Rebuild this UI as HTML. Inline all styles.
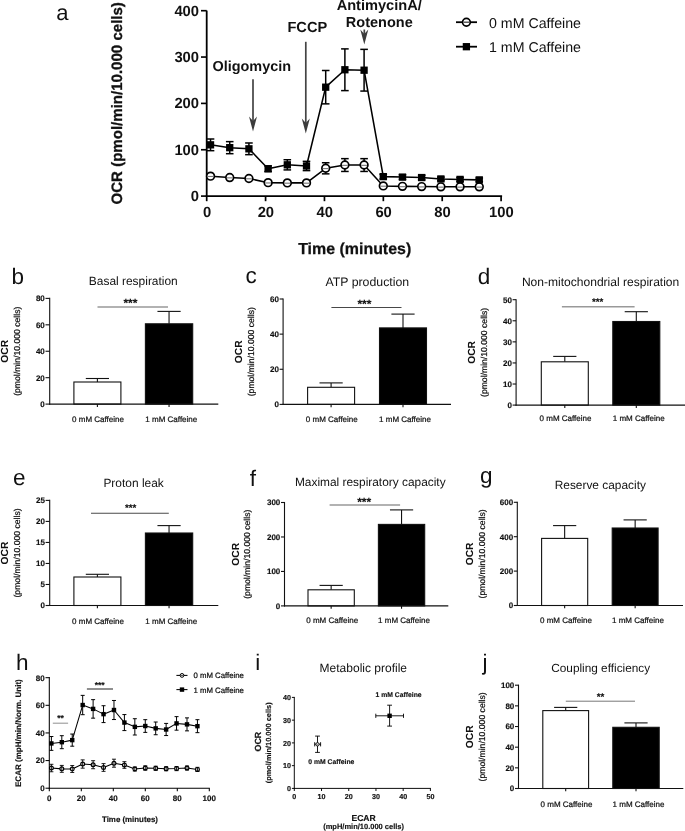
<!DOCTYPE html>
<html><head><meta charset="utf-8"><title>Figure</title>
<style>
html,body{margin:0;padding:0;background:#fff;}
body{width:685px;height:831px;overflow:hidden;font-family:"Liberation Sans",sans-serif;}
svg{display:block;will-change:transform;filter:blur(0.35px);}
svg text{font-family:"Liberation Sans",sans-serif;}
</style></head><body>
<svg width="685" height="831" viewBox="0 0 685 831" font-family="'Liberation Sans', sans-serif" shape-rendering="geometricPrecision" text-rendering="geometricPrecision">
<rect x="0" y="0" width="685" height="831" fill="#fff"/>
<line x1="206.7" y1="10.6" x2="206.7" y2="197" stroke="#000" stroke-width="1.8" stroke-linecap="butt"/>
<line x1="205.8" y1="196.1" x2="502.1" y2="196.1" stroke="#000" stroke-width="1.8" stroke-linecap="butt"/>
<line x1="201" y1="196.1" x2="206.7" y2="196.1" stroke="#000" stroke-width="1.65" stroke-linecap="butt"/>
<text x="199.1" y="200.9" font-size="14.8" text-anchor="end" font-weight="bold" fill="#111">0</text>
<line x1="201" y1="149.75" x2="206.7" y2="149.75" stroke="#000" stroke-width="1.65" stroke-linecap="butt"/>
<text x="199.1" y="154.55" font-size="14.8" text-anchor="end" font-weight="bold" fill="#111">100</text>
<line x1="201" y1="103.4" x2="206.7" y2="103.4" stroke="#000" stroke-width="1.65" stroke-linecap="butt"/>
<text x="199.1" y="108.2" font-size="14.8" text-anchor="end" font-weight="bold" fill="#111">200</text>
<line x1="201" y1="57.05" x2="206.7" y2="57.05" stroke="#000" stroke-width="1.65" stroke-linecap="butt"/>
<text x="199.1" y="61.85" font-size="14.8" text-anchor="end" font-weight="bold" fill="#111">300</text>
<line x1="201" y1="10.7" x2="206.7" y2="10.7" stroke="#000" stroke-width="1.65" stroke-linecap="butt"/>
<text x="199.1" y="15.5" font-size="14.8" text-anchor="end" font-weight="bold" fill="#111">400</text>
<line x1="206.7" y1="196.1" x2="206.7" y2="201.2" stroke="#000" stroke-width="1.7" stroke-linecap="butt"/>
<text x="207" y="217.3" font-size="14.8" text-anchor="middle" font-weight="bold" fill="#111">0</text>
<line x1="265.58" y1="196.1" x2="265.58" y2="201.2" stroke="#000" stroke-width="1.7" stroke-linecap="butt"/>
<text x="265.88" y="217.3" font-size="14.8" text-anchor="middle" font-weight="bold" fill="#111">20</text>
<line x1="324.46" y1="196.1" x2="324.46" y2="201.2" stroke="#000" stroke-width="1.7" stroke-linecap="butt"/>
<text x="324.76" y="217.3" font-size="14.8" text-anchor="middle" font-weight="bold" fill="#111">40</text>
<line x1="383.34" y1="196.1" x2="383.34" y2="201.2" stroke="#000" stroke-width="1.7" stroke-linecap="butt"/>
<text x="383.64" y="217.3" font-size="14.8" text-anchor="middle" font-weight="bold" fill="#111">60</text>
<line x1="442.22" y1="196.1" x2="442.22" y2="201.2" stroke="#000" stroke-width="1.7" stroke-linecap="butt"/>
<text x="442.52" y="217.3" font-size="14.8" text-anchor="middle" font-weight="bold" fill="#111">80</text>
<line x1="501.1" y1="196.1" x2="501.1" y2="201.2" stroke="#000" stroke-width="1.7" stroke-linecap="butt"/>
<text x="501.4" y="217.3" font-size="14.8" text-anchor="middle" font-weight="bold" fill="#111">100</text>
<polyline fill="none" stroke="#000" stroke-width="1.55" stroke-linejoin="round" points="210.53,176.17 229.72,177.56 248.92,178.49 268.11,182.66 287.31,182.89 306.5,182.89 325.7,168.29 344.89,165.05 364.09,165.05 383.28,185.9 402.48,186.37 421.67,186.6 440.87,186.83 460.06,186.83 479.26,186.83"/>
<line x1="325.7" y1="162.73" x2="325.7" y2="173.85" stroke="#000" stroke-width="1.5" stroke-linecap="butt"/>
<line x1="321.9" y1="162.73" x2="329.5" y2="162.73" stroke="#000" stroke-width="1.5" stroke-linecap="butt"/>
<line x1="321.9" y1="173.85" x2="329.5" y2="173.85" stroke="#000" stroke-width="1.5" stroke-linecap="butt"/>
<line x1="344.89" y1="158.65" x2="344.89" y2="171.44" stroke="#000" stroke-width="1.5" stroke-linecap="butt"/>
<line x1="341.09" y1="158.65" x2="348.69" y2="158.65" stroke="#000" stroke-width="1.5" stroke-linecap="butt"/>
<line x1="341.09" y1="171.44" x2="348.69" y2="171.44" stroke="#000" stroke-width="1.5" stroke-linecap="butt"/>
<line x1="364.09" y1="158.65" x2="364.09" y2="171.44" stroke="#000" stroke-width="1.5" stroke-linecap="butt"/>
<line x1="360.29" y1="158.65" x2="367.89" y2="158.65" stroke="#000" stroke-width="1.5" stroke-linecap="butt"/>
<line x1="360.29" y1="171.44" x2="367.89" y2="171.44" stroke="#000" stroke-width="1.5" stroke-linecap="butt"/>
<circle cx="210.53" cy="176.17" r="3.85" fill="#fff" stroke="#000" stroke-width="1.7"/>
<line x1="207.63" y1="176.47" x2="213.43" y2="176.47" stroke="#777" stroke-width="1.1" stroke-linecap="butt"/>
<circle cx="229.72" cy="177.56" r="3.85" fill="#fff" stroke="#000" stroke-width="1.7"/>
<line x1="226.82" y1="177.86" x2="232.62" y2="177.86" stroke="#777" stroke-width="1.1" stroke-linecap="butt"/>
<circle cx="248.92" cy="178.49" r="3.85" fill="#fff" stroke="#000" stroke-width="1.7"/>
<line x1="246.02" y1="178.79" x2="251.82" y2="178.79" stroke="#777" stroke-width="1.1" stroke-linecap="butt"/>
<circle cx="268.11" cy="182.66" r="3.85" fill="#fff" stroke="#000" stroke-width="1.7"/>
<line x1="265.21" y1="182.96" x2="271.01" y2="182.96" stroke="#777" stroke-width="1.1" stroke-linecap="butt"/>
<circle cx="287.31" cy="182.89" r="3.85" fill="#fff" stroke="#000" stroke-width="1.7"/>
<line x1="284.41" y1="183.19" x2="290.21" y2="183.19" stroke="#777" stroke-width="1.1" stroke-linecap="butt"/>
<circle cx="306.5" cy="182.89" r="3.85" fill="#fff" stroke="#000" stroke-width="1.7"/>
<line x1="303.6" y1="183.19" x2="309.4" y2="183.19" stroke="#777" stroke-width="1.1" stroke-linecap="butt"/>
<circle cx="325.7" cy="168.29" r="3.85" fill="#fff" stroke="#000" stroke-width="1.7"/>
<line x1="322.8" y1="168.59" x2="328.6" y2="168.59" stroke="#777" stroke-width="1.1" stroke-linecap="butt"/>
<circle cx="344.89" cy="165.05" r="3.85" fill="#fff" stroke="#000" stroke-width="1.7"/>
<line x1="341.99" y1="165.35" x2="347.79" y2="165.35" stroke="#777" stroke-width="1.1" stroke-linecap="butt"/>
<circle cx="364.09" cy="165.05" r="3.85" fill="#fff" stroke="#000" stroke-width="1.7"/>
<line x1="361.19" y1="165.35" x2="366.99" y2="165.35" stroke="#777" stroke-width="1.1" stroke-linecap="butt"/>
<circle cx="383.28" cy="185.9" r="3.85" fill="#fff" stroke="#000" stroke-width="1.7"/>
<line x1="380.38" y1="186.2" x2="386.18" y2="186.2" stroke="#777" stroke-width="1.1" stroke-linecap="butt"/>
<circle cx="402.48" cy="186.37" r="3.85" fill="#fff" stroke="#000" stroke-width="1.7"/>
<line x1="399.58" y1="186.67" x2="405.38" y2="186.67" stroke="#777" stroke-width="1.1" stroke-linecap="butt"/>
<circle cx="421.67" cy="186.6" r="3.85" fill="#fff" stroke="#000" stroke-width="1.7"/>
<line x1="418.77" y1="186.9" x2="424.57" y2="186.9" stroke="#777" stroke-width="1.1" stroke-linecap="butt"/>
<circle cx="440.87" cy="186.83" r="3.85" fill="#fff" stroke="#000" stroke-width="1.7"/>
<line x1="437.97" y1="187.13" x2="443.77" y2="187.13" stroke="#777" stroke-width="1.1" stroke-linecap="butt"/>
<circle cx="460.06" cy="186.83" r="3.85" fill="#fff" stroke="#000" stroke-width="1.7"/>
<line x1="457.16" y1="187.13" x2="462.96" y2="187.13" stroke="#777" stroke-width="1.1" stroke-linecap="butt"/>
<circle cx="479.26" cy="186.83" r="3.85" fill="#fff" stroke="#000" stroke-width="1.7"/>
<line x1="476.36" y1="187.13" x2="482.16" y2="187.13" stroke="#777" stroke-width="1.1" stroke-linecap="butt"/>
<polyline fill="none" stroke="#000" stroke-width="1.55" stroke-linejoin="round" points="210.53,144.84 229.72,147.66 248.92,148.82 268.11,168.75 287.31,164.81 306.5,165.97 325.7,87.18 344.89,69.75 364.09,70.21 383.28,176.63 402.48,177.1 421.67,177.56 440.87,178.95 460.06,179.41 479.26,179.88"/>
<line x1="210.53" y1="139" x2="210.53" y2="150.68" stroke="#000" stroke-width="1.5" stroke-linecap="butt"/>
<line x1="206.73" y1="139" x2="214.33" y2="139" stroke="#000" stroke-width="1.5" stroke-linecap="butt"/>
<line x1="206.73" y1="150.68" x2="214.33" y2="150.68" stroke="#000" stroke-width="1.5" stroke-linecap="butt"/>
<line x1="229.72" y1="141.64" x2="229.72" y2="153.69" stroke="#000" stroke-width="1.5" stroke-linecap="butt"/>
<line x1="225.92" y1="141.64" x2="233.52" y2="141.64" stroke="#000" stroke-width="1.5" stroke-linecap="butt"/>
<line x1="225.92" y1="153.69" x2="233.52" y2="153.69" stroke="#000" stroke-width="1.5" stroke-linecap="butt"/>
<line x1="248.92" y1="142.98" x2="248.92" y2="154.66" stroke="#000" stroke-width="1.5" stroke-linecap="butt"/>
<line x1="245.12" y1="142.98" x2="252.72" y2="142.98" stroke="#000" stroke-width="1.5" stroke-linecap="butt"/>
<line x1="245.12" y1="154.66" x2="252.72" y2="154.66" stroke="#000" stroke-width="1.5" stroke-linecap="butt"/>
<line x1="268.11" y1="165.97" x2="268.11" y2="171.53" stroke="#000" stroke-width="1.5" stroke-linecap="butt"/>
<line x1="264.31" y1="165.97" x2="271.91" y2="165.97" stroke="#000" stroke-width="1.5" stroke-linecap="butt"/>
<line x1="264.31" y1="171.53" x2="271.91" y2="171.53" stroke="#000" stroke-width="1.5" stroke-linecap="butt"/>
<line x1="287.31" y1="159.72" x2="287.31" y2="169.91" stroke="#000" stroke-width="1.5" stroke-linecap="butt"/>
<line x1="283.51" y1="159.72" x2="291.11" y2="159.72" stroke="#000" stroke-width="1.5" stroke-linecap="butt"/>
<line x1="283.51" y1="169.91" x2="291.11" y2="169.91" stroke="#000" stroke-width="1.5" stroke-linecap="butt"/>
<line x1="306.5" y1="161.34" x2="306.5" y2="170.61" stroke="#000" stroke-width="1.5" stroke-linecap="butt"/>
<line x1="302.7" y1="161.34" x2="310.3" y2="161.34" stroke="#000" stroke-width="1.5" stroke-linecap="butt"/>
<line x1="302.7" y1="170.61" x2="310.3" y2="170.61" stroke="#000" stroke-width="1.5" stroke-linecap="butt"/>
<line x1="325.7" y1="70.49" x2="325.7" y2="103.86" stroke="#000" stroke-width="1.5" stroke-linecap="butt"/>
<line x1="321.9" y1="70.49" x2="329.5" y2="70.49" stroke="#000" stroke-width="1.5" stroke-linecap="butt"/>
<line x1="321.9" y1="103.86" x2="329.5" y2="103.86" stroke="#000" stroke-width="1.5" stroke-linecap="butt"/>
<line x1="344.89" y1="48.89" x2="344.89" y2="90.61" stroke="#000" stroke-width="1.5" stroke-linecap="butt"/>
<line x1="341.09" y1="48.89" x2="348.69" y2="48.89" stroke="#000" stroke-width="1.5" stroke-linecap="butt"/>
<line x1="341.09" y1="90.61" x2="348.69" y2="90.61" stroke="#000" stroke-width="1.5" stroke-linecap="butt"/>
<line x1="364.09" y1="49.36" x2="364.09" y2="91.07" stroke="#000" stroke-width="1.5" stroke-linecap="butt"/>
<line x1="360.29" y1="49.36" x2="367.89" y2="49.36" stroke="#000" stroke-width="1.5" stroke-linecap="butt"/>
<line x1="360.29" y1="91.07" x2="367.89" y2="91.07" stroke="#000" stroke-width="1.5" stroke-linecap="butt"/>
<line x1="383.28" y1="174.32" x2="383.28" y2="178.95" stroke="#000" stroke-width="1.5" stroke-linecap="butt"/>
<line x1="379.48" y1="174.32" x2="387.08" y2="174.32" stroke="#000" stroke-width="1.5" stroke-linecap="butt"/>
<line x1="379.48" y1="178.95" x2="387.08" y2="178.95" stroke="#000" stroke-width="1.5" stroke-linecap="butt"/>
<line x1="402.48" y1="174.78" x2="402.48" y2="179.41" stroke="#000" stroke-width="1.5" stroke-linecap="butt"/>
<line x1="398.68" y1="174.78" x2="406.28" y2="174.78" stroke="#000" stroke-width="1.5" stroke-linecap="butt"/>
<line x1="398.68" y1="179.41" x2="406.28" y2="179.41" stroke="#000" stroke-width="1.5" stroke-linecap="butt"/>
<line x1="421.67" y1="175.24" x2="421.67" y2="179.88" stroke="#000" stroke-width="1.5" stroke-linecap="butt"/>
<line x1="417.87" y1="175.24" x2="425.47" y2="175.24" stroke="#000" stroke-width="1.5" stroke-linecap="butt"/>
<line x1="417.87" y1="179.88" x2="425.47" y2="179.88" stroke="#000" stroke-width="1.5" stroke-linecap="butt"/>
<line x1="440.87" y1="177.1" x2="440.87" y2="180.8" stroke="#000" stroke-width="1.5" stroke-linecap="butt"/>
<line x1="437.07" y1="177.1" x2="444.67" y2="177.1" stroke="#000" stroke-width="1.5" stroke-linecap="butt"/>
<line x1="437.07" y1="180.8" x2="444.67" y2="180.8" stroke="#000" stroke-width="1.5" stroke-linecap="butt"/>
<line x1="460.06" y1="177.56" x2="460.06" y2="181.27" stroke="#000" stroke-width="1.5" stroke-linecap="butt"/>
<line x1="456.26" y1="177.56" x2="463.86" y2="177.56" stroke="#000" stroke-width="1.5" stroke-linecap="butt"/>
<line x1="456.26" y1="181.27" x2="463.86" y2="181.27" stroke="#000" stroke-width="1.5" stroke-linecap="butt"/>
<line x1="479.26" y1="178.02" x2="479.26" y2="181.73" stroke="#000" stroke-width="1.5" stroke-linecap="butt"/>
<line x1="475.46" y1="178.02" x2="483.06" y2="178.02" stroke="#000" stroke-width="1.5" stroke-linecap="butt"/>
<line x1="475.46" y1="181.73" x2="483.06" y2="181.73" stroke="#000" stroke-width="1.5" stroke-linecap="butt"/>
<rect x="206.88" y="141.19" width="7.3" height="7.3" fill="#000"/>
<rect x="226.07" y="144.01" width="7.3" height="7.3" fill="#000"/>
<rect x="245.27" y="145.17" width="7.3" height="7.3" fill="#000"/>
<rect x="264.46" y="165.1" width="7.3" height="7.3" fill="#000"/>
<rect x="283.66" y="161.16" width="7.3" height="7.3" fill="#000"/>
<rect x="302.85" y="162.32" width="7.3" height="7.3" fill="#000"/>
<rect x="322.05" y="83.53" width="7.3" height="7.3" fill="#000"/>
<rect x="341.24" y="66.1" width="7.3" height="7.3" fill="#000"/>
<rect x="360.44" y="66.56" width="7.3" height="7.3" fill="#000"/>
<rect x="379.63" y="172.98" width="7.3" height="7.3" fill="#000"/>
<rect x="398.83" y="173.45" width="7.3" height="7.3" fill="#000"/>
<rect x="418.02" y="173.91" width="7.3" height="7.3" fill="#000"/>
<rect x="437.22" y="175.3" width="7.3" height="7.3" fill="#000"/>
<rect x="456.41" y="175.76" width="7.3" height="7.3" fill="#000"/>
<rect x="475.61" y="176.23" width="7.3" height="7.3" fill="#000"/>
<text x="354.7" y="253.7" font-size="15.95" text-anchor="middle" font-weight="bold" fill="#111" stroke="#111" stroke-width="0.25">Time (minutes)</text>
<text x="122" y="103.3" font-size="15.05" text-anchor="middle" font-weight="bold" transform="rotate(-90 122 103.3)" fill="#111" stroke="#111" stroke-width="0.3">OCR (pmol/min/10.000 cells)</text>
<text x="56.2" y="20.4" font-size="22" text-anchor="start" fill="#111">a</text>
<text x="251.8" y="70.6" font-size="14.45" text-anchor="middle" font-weight="bold" fill="#111">Oligomycin</text>
<text x="307.3" y="31.5" font-size="14.6" text-anchor="middle" font-weight="bold" fill="#111">FCCP</text>
<text x="379.2" y="10.2" font-size="14.6" text-anchor="middle" font-weight="bold" fill="#111">AntimycinA/</text>
<text x="379.3" y="26.5" font-size="14.5" text-anchor="middle" font-weight="bold" fill="#111">Rotenone</text>
<line x1="253" y1="79.3" x2="253" y2="123.5" stroke="#444" stroke-width="1.7" stroke-linecap="butt"/>
<path d="M253 131.5 L249 116.5 L253 121 L257 116.5 Z" fill="#3c3c3c"/>
<line x1="305.8" y1="41.8" x2="305.8" y2="125.5" stroke="#444" stroke-width="1.7" stroke-linecap="butt"/>
<path d="M305.8 133.5 L301.8 118.5 L305.8 123 L309.8 118.5 Z" fill="#3c3c3c"/>
<line x1="364.3" y1="29.5" x2="364.3" y2="36.5" stroke="#444" stroke-width="1.7" stroke-linecap="butt"/>
<path d="M364.3 44.5 L360.3 29.5 L364.3 34 L368.3 29.5 Z" fill="#3c3c3c"/>
<line x1="456" y1="22.2" x2="477" y2="22.2" stroke="#000" stroke-width="1.8" stroke-linecap="butt"/>
<circle cx="466.4" cy="22.2" r="3.85" fill="#fff" stroke="#000" stroke-width="1.7"/>
<line x1="463.6" y1="22.2" x2="469.2" y2="22.2" stroke="#444" stroke-width="1.3" stroke-linecap="butt"/>
<text x="489" y="27.6" font-size="14.2" text-anchor="start" fill="#111">0 mM Caffeine</text>
<line x1="456" y1="46.7" x2="477" y2="46.7" stroke="#000" stroke-width="1.8" stroke-linecap="butt"/>
<rect x="462.75" y="43.05" width="7.3" height="7.3" fill="#000"/>
<text x="489" y="52.1" font-size="14.2" text-anchor="start" fill="#111">1 mM Caffeine</text>
<line x1="97.4" y1="378.5" x2="97.4" y2="382" stroke="#111" stroke-width="1.1" stroke-linecap="butt"/>
<line x1="85.8" y1="378.5" x2="109" y2="378.5" stroke="#111" stroke-width="1.1" stroke-linecap="butt"/>
<rect x="73.9" y="382" width="47" height="22.1" fill="#fff" stroke="#111" stroke-width="1.1"/>
<line x1="97.4" y1="404.1" x2="97.4" y2="406.9" stroke="#111" stroke-width="1.1" stroke-linecap="butt"/>
<line x1="169.05" y1="311.4" x2="169.05" y2="323.8" stroke="#111" stroke-width="1.1" stroke-linecap="butt"/>
<line x1="157.45" y1="311.4" x2="180.65" y2="311.4" stroke="#111" stroke-width="1.1" stroke-linecap="butt"/>
<rect x="145.4" y="323.8" width="47.3" height="80.3" fill="#000" stroke="#111" stroke-width="1.1"/>
<line x1="169.05" y1="404.1" x2="169.05" y2="406.9" stroke="#111" stroke-width="1.1" stroke-linecap="butt"/>
<line x1="49.7" y1="297.85" x2="49.7" y2="404.65" stroke="#111" stroke-width="1.1" stroke-linecap="butt"/>
<line x1="49.15" y1="404.1" x2="218.3" y2="404.1" stroke="#111" stroke-width="1.1" stroke-linecap="butt"/>
<line x1="45.5" y1="404.1" x2="49.7" y2="404.1" stroke="#111" stroke-width="1.1" stroke-linecap="butt"/>
<text x="44.8" y="407" font-size="8" text-anchor="end" font-weight="bold" fill="#111" stroke="#111" stroke-width="0.15">0</text>
<line x1="45.5" y1="377.68" x2="49.7" y2="377.68" stroke="#111" stroke-width="1.1" stroke-linecap="butt"/>
<text x="44.8" y="380.57" font-size="8" text-anchor="end" font-weight="bold" fill="#111" stroke="#111" stroke-width="0.15">20</text>
<line x1="45.5" y1="351.25" x2="49.7" y2="351.25" stroke="#111" stroke-width="1.1" stroke-linecap="butt"/>
<text x="44.8" y="354.15" font-size="8" text-anchor="end" font-weight="bold" fill="#111" stroke="#111" stroke-width="0.15">40</text>
<line x1="45.5" y1="324.82" x2="49.7" y2="324.82" stroke="#111" stroke-width="1.1" stroke-linecap="butt"/>
<text x="44.8" y="327.72" font-size="8" text-anchor="end" font-weight="bold" fill="#111" stroke="#111" stroke-width="0.15">60</text>
<line x1="45.5" y1="298.4" x2="49.7" y2="298.4" stroke="#111" stroke-width="1.1" stroke-linecap="butt"/>
<text x="44.8" y="301.3" font-size="8" text-anchor="end" font-weight="bold" fill="#111" stroke="#111" stroke-width="0.15">80</text>
<text x="98" y="421.6" font-size="8" text-anchor="middle" fill="#111" stroke="#111" stroke-width="0.22">0 mM Caffeine</text>
<text x="171.3" y="421.6" font-size="8" text-anchor="middle" fill="#111" stroke="#111" stroke-width="0.22">1 mM Caffeine</text>
<text x="133.3" y="284.6" font-size="11.95" text-anchor="middle" fill="#111">Basal respiration</text>
<text x="8" y="351.25" font-size="10.3" text-anchor="middle" font-weight="bold" transform="rotate(-90 8 351.25)" fill="#111">OCR</text>
<text x="20" y="351.25" font-size="8.65" text-anchor="middle" transform="rotate(-90 20 351.25)" fill="#111" stroke="#111" stroke-width="0.22">(pmol/min/10.000 cells)</text>
<text x="11.5" y="283.5" font-size="22.5" text-anchor="start" fill="#111">b</text>
<line x1="97.5" y1="307" x2="168" y2="307" stroke="#999" stroke-width="1.5" stroke-linecap="butt"/>
<text x="130.4" y="306.9" font-size="12" text-anchor="middle" font-weight="bold" fill="#111" stroke="#111" stroke-width="0.12">***</text>
<line x1="331.1" y1="382.9" x2="331.1" y2="387.3" stroke="#111" stroke-width="1.1" stroke-linecap="butt"/>
<line x1="319.5" y1="382.9" x2="342.7" y2="382.9" stroke="#111" stroke-width="1.1" stroke-linecap="butt"/>
<rect x="307.6" y="387.3" width="47" height="17.1" fill="#fff" stroke="#111" stroke-width="1.1"/>
<line x1="331.1" y1="404.4" x2="331.1" y2="407.2" stroke="#111" stroke-width="1.1" stroke-linecap="butt"/>
<line x1="403" y1="314.1" x2="403" y2="327.9" stroke="#111" stroke-width="1.1" stroke-linecap="butt"/>
<line x1="391.4" y1="314.1" x2="414.6" y2="314.1" stroke="#111" stroke-width="1.1" stroke-linecap="butt"/>
<rect x="379.5" y="327.9" width="47" height="76.5" fill="#000" stroke="#111" stroke-width="1.1"/>
<line x1="403" y1="404.4" x2="403" y2="407.2" stroke="#111" stroke-width="1.1" stroke-linecap="butt"/>
<line x1="283.1" y1="298.45" x2="283.1" y2="404.95" stroke="#111" stroke-width="1.1" stroke-linecap="butt"/>
<line x1="282.55" y1="404.4" x2="451" y2="404.4" stroke="#111" stroke-width="1.1" stroke-linecap="butt"/>
<line x1="279.6" y1="404.4" x2="283.1" y2="404.4" stroke="#111" stroke-width="1.1" stroke-linecap="butt"/>
<text x="278.9" y="407.3" font-size="8" text-anchor="end" font-weight="bold" fill="#111" stroke="#111" stroke-width="0.15">0</text>
<line x1="279.6" y1="369.27" x2="283.1" y2="369.27" stroke="#111" stroke-width="1.1" stroke-linecap="butt"/>
<text x="278.9" y="372.17" font-size="8" text-anchor="end" font-weight="bold" fill="#111" stroke="#111" stroke-width="0.15">20</text>
<line x1="279.6" y1="334.13" x2="283.1" y2="334.13" stroke="#111" stroke-width="1.1" stroke-linecap="butt"/>
<text x="278.9" y="337.03" font-size="8" text-anchor="end" font-weight="bold" fill="#111" stroke="#111" stroke-width="0.15">40</text>
<line x1="279.6" y1="299" x2="283.1" y2="299" stroke="#111" stroke-width="1.1" stroke-linecap="butt"/>
<text x="278.9" y="301.9" font-size="8" text-anchor="end" font-weight="bold" fill="#111" stroke="#111" stroke-width="0.15">60</text>
<text x="331.8" y="422.2" font-size="8" text-anchor="middle" fill="#111" stroke="#111" stroke-width="0.22">0 mM Caffeine</text>
<text x="405" y="422.2" font-size="8" text-anchor="middle" fill="#111" stroke="#111" stroke-width="0.22">1 mM Caffeine</text>
<text x="367.3" y="285.7" font-size="12.3" text-anchor="middle" fill="#111">ATP production</text>
<text x="242.4" y="351.7" font-size="10.3" text-anchor="middle" font-weight="bold" transform="rotate(-90 242.4 351.7)" fill="#111">OCR</text>
<text x="254.2" y="351.7" font-size="8.65" text-anchor="middle" transform="rotate(-90 254.2 351.7)" fill="#111" stroke="#111" stroke-width="0.22">(pmol/min/10.000 cells)</text>
<text x="245.5" y="282.8" font-size="22.5" text-anchor="start" fill="#111">c</text>
<line x1="331.4" y1="307.5" x2="401.5" y2="307.5" stroke="#333" stroke-width="0.9" stroke-linecap="butt"/>
<text x="364.4" y="307.6" font-size="12" text-anchor="middle" font-weight="bold" fill="#111" stroke="#111" stroke-width="0.12">***</text>
<line x1="564.8" y1="356.4" x2="564.8" y2="361.8" stroke="#111" stroke-width="1.1" stroke-linecap="butt"/>
<line x1="553.2" y1="356.4" x2="576.4" y2="356.4" stroke="#111" stroke-width="1.1" stroke-linecap="butt"/>
<rect x="541.3" y="361.8" width="47" height="43.3" fill="#fff" stroke="#111" stroke-width="1.1"/>
<line x1="564.8" y1="405.1" x2="564.8" y2="407.9" stroke="#111" stroke-width="1.1" stroke-linecap="butt"/>
<line x1="636.3" y1="311.7" x2="636.3" y2="321.5" stroke="#111" stroke-width="1.1" stroke-linecap="butt"/>
<line x1="624.7" y1="311.7" x2="647.9" y2="311.7" stroke="#111" stroke-width="1.1" stroke-linecap="butt"/>
<rect x="612.8" y="321.5" width="47" height="83.6" fill="#000" stroke="#111" stroke-width="1.1"/>
<line x1="636.3" y1="405.1" x2="636.3" y2="407.9" stroke="#111" stroke-width="1.1" stroke-linecap="butt"/>
<line x1="516.1" y1="299.15" x2="516.1" y2="405.65" stroke="#111" stroke-width="1.1" stroke-linecap="butt"/>
<line x1="515.55" y1="405.1" x2="685" y2="405.1" stroke="#111" stroke-width="1.1" stroke-linecap="butt"/>
<line x1="512.6" y1="405.1" x2="516.1" y2="405.1" stroke="#111" stroke-width="1.1" stroke-linecap="butt"/>
<text x="511.9" y="408" font-size="8" text-anchor="end" font-weight="bold" fill="#111" stroke="#111" stroke-width="0.15">0</text>
<line x1="512.6" y1="384.02" x2="516.1" y2="384.02" stroke="#111" stroke-width="1.1" stroke-linecap="butt"/>
<text x="511.9" y="386.92" font-size="8" text-anchor="end" font-weight="bold" fill="#111" stroke="#111" stroke-width="0.15">10</text>
<line x1="512.6" y1="362.94" x2="516.1" y2="362.94" stroke="#111" stroke-width="1.1" stroke-linecap="butt"/>
<text x="511.9" y="365.84" font-size="8" text-anchor="end" font-weight="bold" fill="#111" stroke="#111" stroke-width="0.15">20</text>
<line x1="512.6" y1="341.86" x2="516.1" y2="341.86" stroke="#111" stroke-width="1.1" stroke-linecap="butt"/>
<text x="511.9" y="344.76" font-size="8" text-anchor="end" font-weight="bold" fill="#111" stroke="#111" stroke-width="0.15">30</text>
<line x1="512.6" y1="320.78" x2="516.1" y2="320.78" stroke="#111" stroke-width="1.1" stroke-linecap="butt"/>
<text x="511.9" y="323.68" font-size="8" text-anchor="end" font-weight="bold" fill="#111" stroke="#111" stroke-width="0.15">40</text>
<line x1="512.6" y1="299.7" x2="516.1" y2="299.7" stroke="#111" stroke-width="1.1" stroke-linecap="butt"/>
<text x="511.9" y="302.6" font-size="8" text-anchor="end" font-weight="bold" fill="#111" stroke="#111" stroke-width="0.15">50</text>
<text x="565.5" y="421" font-size="8" text-anchor="middle" fill="#111" stroke="#111" stroke-width="0.22">0 mM Caffeine</text>
<text x="638.7" y="421" font-size="8" text-anchor="middle" fill="#111" stroke="#111" stroke-width="0.22">1 mM Caffeine</text>
<text x="600.6" y="285.8" font-size="12.05" text-anchor="middle" fill="#111">Non-mitochondrial respiration</text>
<text x="475.1" y="352.4" font-size="10.3" text-anchor="middle" font-weight="bold" transform="rotate(-90 475.1 352.4)" fill="#111">OCR</text>
<text x="487.3" y="352.4" font-size="8.65" text-anchor="middle" transform="rotate(-90 487.3 352.4)" fill="#111" stroke="#111" stroke-width="0.22">(pmol/min/10.000 cells)</text>
<text x="477.8" y="283.5" font-size="22.5" text-anchor="start" fill="#111">d</text>
<line x1="561.9" y1="306.8" x2="634.6" y2="306.8" stroke="#999" stroke-width="1.5" stroke-linecap="butt"/>
<text x="597.7" y="305.1" font-size="9.8" text-anchor="middle" font-weight="bold" fill="#111" stroke="#111" stroke-width="0.12">***</text>
<line x1="97.4" y1="574.3" x2="97.4" y2="577" stroke="#111" stroke-width="1.1" stroke-linecap="butt"/>
<line x1="85.8" y1="574.3" x2="109" y2="574.3" stroke="#111" stroke-width="1.1" stroke-linecap="butt"/>
<rect x="73.9" y="577" width="47" height="28.5" fill="#fff" stroke="#111" stroke-width="1.1"/>
<line x1="97.4" y1="605.5" x2="97.4" y2="608.3" stroke="#111" stroke-width="1.1" stroke-linecap="butt"/>
<line x1="169.05" y1="525.6" x2="169.05" y2="533" stroke="#111" stroke-width="1.1" stroke-linecap="butt"/>
<line x1="157.45" y1="525.6" x2="180.65" y2="525.6" stroke="#111" stroke-width="1.1" stroke-linecap="butt"/>
<rect x="145.4" y="533" width="47.3" height="72.5" fill="#000" stroke="#111" stroke-width="1.1"/>
<line x1="169.05" y1="605.5" x2="169.05" y2="608.3" stroke="#111" stroke-width="1.1" stroke-linecap="butt"/>
<line x1="49.7" y1="499.85" x2="49.7" y2="606.05" stroke="#111" stroke-width="1.1" stroke-linecap="butt"/>
<line x1="49.15" y1="605.5" x2="218.3" y2="605.5" stroke="#111" stroke-width="1.1" stroke-linecap="butt"/>
<line x1="45.6" y1="605.5" x2="49.7" y2="605.5" stroke="#111" stroke-width="1.1" stroke-linecap="butt"/>
<text x="44.9" y="608.4" font-size="8" text-anchor="end" font-weight="bold" fill="#111" stroke="#111" stroke-width="0.15">0</text>
<line x1="45.6" y1="584.48" x2="49.7" y2="584.48" stroke="#111" stroke-width="1.1" stroke-linecap="butt"/>
<text x="44.9" y="587.38" font-size="8" text-anchor="end" font-weight="bold" fill="#111" stroke="#111" stroke-width="0.15">5</text>
<line x1="45.6" y1="563.46" x2="49.7" y2="563.46" stroke="#111" stroke-width="1.1" stroke-linecap="butt"/>
<text x="44.9" y="566.36" font-size="8" text-anchor="end" font-weight="bold" fill="#111" stroke="#111" stroke-width="0.15">10</text>
<line x1="45.6" y1="542.44" x2="49.7" y2="542.44" stroke="#111" stroke-width="1.1" stroke-linecap="butt"/>
<text x="44.9" y="545.34" font-size="8" text-anchor="end" font-weight="bold" fill="#111" stroke="#111" stroke-width="0.15">15</text>
<line x1="45.6" y1="521.42" x2="49.7" y2="521.42" stroke="#111" stroke-width="1.1" stroke-linecap="butt"/>
<text x="44.9" y="524.32" font-size="8" text-anchor="end" font-weight="bold" fill="#111" stroke="#111" stroke-width="0.15">20</text>
<line x1="45.6" y1="500.4" x2="49.7" y2="500.4" stroke="#111" stroke-width="1.1" stroke-linecap="butt"/>
<text x="44.9" y="503.3" font-size="8" text-anchor="end" font-weight="bold" fill="#111" stroke="#111" stroke-width="0.15">25</text>
<text x="98" y="624.1" font-size="8" text-anchor="middle" fill="#111" stroke="#111" stroke-width="0.22">0 mM Caffeine</text>
<text x="171.3" y="624.1" font-size="8" text-anchor="middle" fill="#111" stroke="#111" stroke-width="0.22">1 mM Caffeine</text>
<text x="133.6" y="486.7" font-size="11.95" text-anchor="middle" fill="#111">Proton leak</text>
<text x="8" y="552.95" font-size="10.3" text-anchor="middle" font-weight="bold" transform="rotate(-90 8 552.95)" fill="#111">OCR</text>
<text x="19.9" y="552.95" font-size="8.65" text-anchor="middle" transform="rotate(-90 19.9 552.95)" fill="#111" stroke="#111" stroke-width="0.22">(pmol/min/10.000 cells)</text>
<text x="13" y="484.6" font-size="22.5" text-anchor="start" fill="#111">e</text>
<line x1="91" y1="513.2" x2="168.8" y2="513.2" stroke="#4a4a4a" stroke-width="1.1" stroke-linecap="butt"/>
<text x="130.7" y="511.3" font-size="9.8" text-anchor="middle" font-weight="bold" fill="#111" stroke="#111" stroke-width="0.12">***</text>
<line x1="331.15" y1="585.4" x2="331.15" y2="589.8" stroke="#111" stroke-width="1.1" stroke-linecap="butt"/>
<line x1="319.55" y1="585.4" x2="342.75" y2="585.4" stroke="#111" stroke-width="1.1" stroke-linecap="butt"/>
<rect x="308" y="589.8" width="46.3" height="16.1" fill="#fff" stroke="#111" stroke-width="1.1"/>
<line x1="331.15" y1="605.9" x2="331.15" y2="608.7" stroke="#111" stroke-width="1.1" stroke-linecap="butt"/>
<line x1="401.55" y1="509.9" x2="401.55" y2="524.4" stroke="#111" stroke-width="1.1" stroke-linecap="butt"/>
<line x1="389.95" y1="509.9" x2="413.15" y2="509.9" stroke="#111" stroke-width="1.1" stroke-linecap="butt"/>
<rect x="378.4" y="524.4" width="46.3" height="81.5" fill="#000" stroke="#111" stroke-width="1.1"/>
<line x1="401.55" y1="605.9" x2="401.55" y2="608.7" stroke="#111" stroke-width="1.1" stroke-linecap="butt"/>
<line x1="284.5" y1="501.95" x2="284.5" y2="606.45" stroke="#111" stroke-width="1.1" stroke-linecap="butt"/>
<line x1="283.95" y1="605.9" x2="448.3" y2="605.9" stroke="#111" stroke-width="1.1" stroke-linecap="butt"/>
<line x1="281" y1="605.9" x2="284.5" y2="605.9" stroke="#111" stroke-width="1.1" stroke-linecap="butt"/>
<text x="280.3" y="608.8" font-size="8" text-anchor="end" font-weight="bold" fill="#111" stroke="#111" stroke-width="0.15">0</text>
<line x1="281" y1="571.43" x2="284.5" y2="571.43" stroke="#111" stroke-width="1.1" stroke-linecap="butt"/>
<text x="280.3" y="574.33" font-size="8" text-anchor="end" font-weight="bold" fill="#111" stroke="#111" stroke-width="0.15">100</text>
<line x1="281" y1="536.97" x2="284.5" y2="536.97" stroke="#111" stroke-width="1.1" stroke-linecap="butt"/>
<text x="280.3" y="539.87" font-size="8" text-anchor="end" font-weight="bold" fill="#111" stroke="#111" stroke-width="0.15">200</text>
<line x1="281" y1="502.5" x2="284.5" y2="502.5" stroke="#111" stroke-width="1.1" stroke-linecap="butt"/>
<text x="280.3" y="505.4" font-size="8" text-anchor="end" font-weight="bold" fill="#111" stroke="#111" stroke-width="0.15">300</text>
<text x="332.2" y="622.9" font-size="8" text-anchor="middle" fill="#111" stroke="#111" stroke-width="0.22">0 mM Caffeine</text>
<text x="404" y="622.9" font-size="8" text-anchor="middle" fill="#111" stroke="#111" stroke-width="0.22">1 mM Caffeine</text>
<text x="370.3" y="486.1" font-size="11.9" text-anchor="middle" fill="#111">Maximal respiratory capacity</text>
<text x="238.9" y="554.2" font-size="10.3" text-anchor="middle" font-weight="bold" transform="rotate(-90 238.9 554.2)" fill="#111">OCR</text>
<text x="250.2" y="554.2" font-size="8.65" text-anchor="middle" transform="rotate(-90 250.2 554.2)" fill="#111" stroke="#111" stroke-width="0.22">(pmol/min/10.000 cells)</text>
<text x="249.8" y="486" font-size="22.5" text-anchor="start" fill="#111">f</text>
<line x1="329.6" y1="504.9" x2="400.1" y2="504.9" stroke="#999" stroke-width="1.5" stroke-linecap="butt"/>
<text x="364.2" y="506" font-size="12" text-anchor="middle" font-weight="bold" fill="#111" stroke="#111" stroke-width="0.12">***</text>
<line x1="564.65" y1="525.6" x2="564.65" y2="538.4" stroke="#111" stroke-width="1.1" stroke-linecap="butt"/>
<line x1="553.05" y1="525.6" x2="576.25" y2="525.6" stroke="#111" stroke-width="1.1" stroke-linecap="butt"/>
<rect x="541.6" y="538.4" width="46.1" height="67.1" fill="#fff" stroke="#111" stroke-width="1.1"/>
<line x1="564.65" y1="605.5" x2="564.65" y2="608.3" stroke="#111" stroke-width="1.1" stroke-linecap="butt"/>
<line x1="635.15" y1="519.9" x2="635.15" y2="528" stroke="#111" stroke-width="1.1" stroke-linecap="butt"/>
<line x1="623.55" y1="519.9" x2="646.75" y2="519.9" stroke="#111" stroke-width="1.1" stroke-linecap="butt"/>
<rect x="612.2" y="528" width="45.9" height="77.5" fill="#000" stroke="#111" stroke-width="1.1"/>
<line x1="635.15" y1="605.5" x2="635.15" y2="608.3" stroke="#111" stroke-width="1.1" stroke-linecap="butt"/>
<line x1="517.3" y1="501.75" x2="517.3" y2="606.05" stroke="#111" stroke-width="1.1" stroke-linecap="butt"/>
<line x1="516.75" y1="605.5" x2="683" y2="605.5" stroke="#111" stroke-width="1.1" stroke-linecap="butt"/>
<line x1="513.8" y1="605.5" x2="517.3" y2="605.5" stroke="#111" stroke-width="1.1" stroke-linecap="butt"/>
<text x="513.1" y="608.4" font-size="8" text-anchor="end" font-weight="bold" fill="#111" stroke="#111" stroke-width="0.15">0</text>
<line x1="513.8" y1="571.1" x2="517.3" y2="571.1" stroke="#111" stroke-width="1.1" stroke-linecap="butt"/>
<text x="513.1" y="574" font-size="8" text-anchor="end" font-weight="bold" fill="#111" stroke="#111" stroke-width="0.15">200</text>
<line x1="513.8" y1="536.7" x2="517.3" y2="536.7" stroke="#111" stroke-width="1.1" stroke-linecap="butt"/>
<text x="513.1" y="539.6" font-size="8" text-anchor="end" font-weight="bold" fill="#111" stroke="#111" stroke-width="0.15">400</text>
<line x1="513.8" y1="502.3" x2="517.3" y2="502.3" stroke="#111" stroke-width="1.1" stroke-linecap="butt"/>
<text x="513.1" y="505.2" font-size="8" text-anchor="end" font-weight="bold" fill="#111" stroke="#111" stroke-width="0.15">600</text>
<text x="565.9" y="623" font-size="8" text-anchor="middle" fill="#111" stroke="#111" stroke-width="0.22">0 mM Caffeine</text>
<text x="637.9" y="623" font-size="8" text-anchor="middle" fill="#111" stroke="#111" stroke-width="0.22">1 mM Caffeine</text>
<text x="600.3" y="488.7" font-size="11.9" text-anchor="middle" fill="#111">Reserve capacity</text>
<text x="473.3" y="553.9" font-size="10.3" text-anchor="middle" font-weight="bold" transform="rotate(-90 473.3 553.9)" fill="#111">OCR</text>
<text x="484.8" y="553.9" font-size="8.65" text-anchor="middle" transform="rotate(-90 484.8 553.9)" fill="#111" stroke="#111" stroke-width="0.22">(pmol/min/10.000 cells)</text>
<text x="480" y="482.5" font-size="22.5" text-anchor="start" fill="#111">g</text>
<line x1="565.7" y1="707.4" x2="565.7" y2="710.6" stroke="#111" stroke-width="1.1" stroke-linecap="butt"/>
<line x1="554.1" y1="707.4" x2="577.3" y2="707.4" stroke="#111" stroke-width="1.1" stroke-linecap="butt"/>
<rect x="542.8" y="710.6" width="45.8" height="77.9" fill="#fff" stroke="#111" stroke-width="1.1"/>
<line x1="565.7" y1="788.5" x2="565.7" y2="791.3" stroke="#111" stroke-width="1.1" stroke-linecap="butt"/>
<line x1="636" y1="722.9" x2="636" y2="727.3" stroke="#111" stroke-width="1.1" stroke-linecap="butt"/>
<line x1="624.4" y1="722.9" x2="647.6" y2="722.9" stroke="#111" stroke-width="1.1" stroke-linecap="butt"/>
<rect x="612.8" y="727.3" width="46.4" height="61.2" fill="#000" stroke="#111" stroke-width="1.1"/>
<line x1="636" y1="788.5" x2="636" y2="791.3" stroke="#111" stroke-width="1.1" stroke-linecap="butt"/>
<line x1="518.5" y1="684.65" x2="518.5" y2="789.05" stroke="#111" stroke-width="1.1" stroke-linecap="butt"/>
<line x1="517.95" y1="788.5" x2="683.3" y2="788.5" stroke="#111" stroke-width="1.1" stroke-linecap="butt"/>
<line x1="515" y1="788.5" x2="518.5" y2="788.5" stroke="#111" stroke-width="1.1" stroke-linecap="butt"/>
<text x="514.3" y="791.4" font-size="8" text-anchor="end" font-weight="bold" fill="#111" stroke="#111" stroke-width="0.15">0</text>
<line x1="515" y1="767.84" x2="518.5" y2="767.84" stroke="#111" stroke-width="1.1" stroke-linecap="butt"/>
<text x="514.3" y="770.74" font-size="8" text-anchor="end" font-weight="bold" fill="#111" stroke="#111" stroke-width="0.15">20</text>
<line x1="515" y1="747.18" x2="518.5" y2="747.18" stroke="#111" stroke-width="1.1" stroke-linecap="butt"/>
<text x="514.3" y="750.08" font-size="8" text-anchor="end" font-weight="bold" fill="#111" stroke="#111" stroke-width="0.15">40</text>
<line x1="515" y1="726.52" x2="518.5" y2="726.52" stroke="#111" stroke-width="1.1" stroke-linecap="butt"/>
<text x="514.3" y="729.42" font-size="8" text-anchor="end" font-weight="bold" fill="#111" stroke="#111" stroke-width="0.15">60</text>
<line x1="515" y1="705.86" x2="518.5" y2="705.86" stroke="#111" stroke-width="1.1" stroke-linecap="butt"/>
<text x="514.3" y="708.76" font-size="8" text-anchor="end" font-weight="bold" fill="#111" stroke="#111" stroke-width="0.15">80</text>
<line x1="515" y1="685.2" x2="518.5" y2="685.2" stroke="#111" stroke-width="1.1" stroke-linecap="butt"/>
<text x="514.3" y="688.1" font-size="8" text-anchor="end" font-weight="bold" fill="#111" stroke="#111" stroke-width="0.15">100</text>
<text x="566.5" y="806.5" font-size="8" text-anchor="middle" fill="#111" stroke="#111" stroke-width="0.22">0 mM Caffeine</text>
<text x="638.5" y="806.5" font-size="8" text-anchor="middle" fill="#111" stroke="#111" stroke-width="0.22">1 mM Caffeine</text>
<text x="600.7" y="672" font-size="11.8" text-anchor="middle" fill="#111">Coupling efficiency</text>
<text x="473.2" y="736.85" font-size="10.3" text-anchor="middle" font-weight="bold" transform="rotate(-90 473.2 736.85)" fill="#111">OCR</text>
<text x="485.1" y="736.85" font-size="8.65" text-anchor="middle" transform="rotate(-90 485.1 736.85)" fill="#111" stroke="#111" stroke-width="0.22">(pmol/min/10.000 cells)</text>
<text x="482.5" y="670.3" font-size="22.5" text-anchor="start" fill="#111">j</text>
<line x1="565.8" y1="701.2" x2="635" y2="701.2" stroke="#777" stroke-width="1" stroke-linecap="butt"/>
<text x="600.5" y="700.1" font-size="9.8" text-anchor="middle" font-weight="bold" fill="#111" stroke="#111" stroke-width="0.12">**</text>
<line x1="49.3" y1="676.88" x2="49.3" y2="788.73" stroke="#000" stroke-width="1.05" stroke-linecap="butt"/>
<line x1="48.77" y1="788.2" x2="209.83" y2="788.2" stroke="#000" stroke-width="1.05" stroke-linecap="butt"/>
<line x1="45.5" y1="788.2" x2="49.3" y2="788.2" stroke="#000" stroke-width="1.05" stroke-linecap="butt"/>
<text x="44.7" y="791.1" font-size="8" text-anchor="end" font-weight="bold" fill="#111" stroke="#111" stroke-width="0.15">0</text>
<line x1="45.5" y1="760.57" x2="49.3" y2="760.57" stroke="#000" stroke-width="1.05" stroke-linecap="butt"/>
<text x="44.7" y="763.47" font-size="8" text-anchor="end" font-weight="bold" fill="#111" stroke="#111" stroke-width="0.15">20</text>
<line x1="45.5" y1="732.94" x2="49.3" y2="732.94" stroke="#000" stroke-width="1.05" stroke-linecap="butt"/>
<text x="44.7" y="735.84" font-size="8" text-anchor="end" font-weight="bold" fill="#111" stroke="#111" stroke-width="0.15">40</text>
<line x1="45.5" y1="705.31" x2="49.3" y2="705.31" stroke="#000" stroke-width="1.05" stroke-linecap="butt"/>
<text x="44.7" y="708.21" font-size="8" text-anchor="end" font-weight="bold" fill="#111" stroke="#111" stroke-width="0.15">60</text>
<line x1="45.5" y1="677.68" x2="49.3" y2="677.68" stroke="#000" stroke-width="1.05" stroke-linecap="butt"/>
<text x="44.7" y="680.58" font-size="8" text-anchor="end" font-weight="bold" fill="#111" stroke="#111" stroke-width="0.15">80</text>
<line x1="49.3" y1="788.2" x2="49.3" y2="791.2" stroke="#000" stroke-width="1.05" stroke-linecap="butt"/>
<text x="49.3" y="800.7" font-size="8" text-anchor="middle" font-weight="bold" fill="#111" stroke="#111" stroke-width="0.15">0</text>
<line x1="81.3" y1="788.2" x2="81.3" y2="791.2" stroke="#000" stroke-width="1.05" stroke-linecap="butt"/>
<text x="81.3" y="800.7" font-size="8" text-anchor="middle" font-weight="bold" fill="#111" stroke="#111" stroke-width="0.15">20</text>
<line x1="113.3" y1="788.2" x2="113.3" y2="791.2" stroke="#000" stroke-width="1.05" stroke-linecap="butt"/>
<text x="113.3" y="800.7" font-size="8" text-anchor="middle" font-weight="bold" fill="#111" stroke="#111" stroke-width="0.15">40</text>
<line x1="145.3" y1="788.2" x2="145.3" y2="791.2" stroke="#000" stroke-width="1.05" stroke-linecap="butt"/>
<text x="145.3" y="800.7" font-size="8" text-anchor="middle" font-weight="bold" fill="#111" stroke="#111" stroke-width="0.15">60</text>
<line x1="177.3" y1="788.2" x2="177.3" y2="791.2" stroke="#000" stroke-width="1.05" stroke-linecap="butt"/>
<text x="177.3" y="800.7" font-size="8" text-anchor="middle" font-weight="bold" fill="#111" stroke="#111" stroke-width="0.15">80</text>
<line x1="209.3" y1="788.2" x2="209.3" y2="791.2" stroke="#000" stroke-width="1.05" stroke-linecap="butt"/>
<text x="209.3" y="800.7" font-size="8" text-anchor="middle" font-weight="bold" fill="#111" stroke="#111" stroke-width="0.15">100</text>
<polyline fill="none" stroke="#000" stroke-width="1.05" stroke-linejoin="round" points="51.38,768.03 61.81,768.86 72.24,769 82.68,764.02 93.11,764.71 103.54,767.48 113.97,763.19 124.4,764.99 134.84,769 145.27,768.03 155.7,768.31 166.13,768.72 176.56,768.58 187,768.03 197.43,769.41"/>
<circle cx="51.38" cy="768.03" r="1.9" fill="#fff" stroke="#000" stroke-width="1.2"/>
<circle cx="61.81" cy="768.86" r="1.9" fill="#fff" stroke="#000" stroke-width="1.2"/>
<circle cx="72.24" cy="769" r="1.9" fill="#fff" stroke="#000" stroke-width="1.2"/>
<circle cx="82.68" cy="764.02" r="1.9" fill="#fff" stroke="#000" stroke-width="1.2"/>
<circle cx="93.11" cy="764.71" r="1.9" fill="#fff" stroke="#000" stroke-width="1.2"/>
<circle cx="103.54" cy="767.48" r="1.9" fill="#fff" stroke="#000" stroke-width="1.2"/>
<circle cx="113.97" cy="763.19" r="1.9" fill="#fff" stroke="#000" stroke-width="1.2"/>
<circle cx="124.4" cy="764.99" r="1.9" fill="#fff" stroke="#000" stroke-width="1.2"/>
<circle cx="134.84" cy="769" r="1.9" fill="#fff" stroke="#000" stroke-width="1.2"/>
<circle cx="145.27" cy="768.03" r="1.9" fill="#fff" stroke="#000" stroke-width="1.2"/>
<circle cx="155.7" cy="768.31" r="1.9" fill="#fff" stroke="#000" stroke-width="1.2"/>
<circle cx="166.13" cy="768.72" r="1.9" fill="#fff" stroke="#000" stroke-width="1.2"/>
<circle cx="176.56" cy="768.58" r="1.9" fill="#fff" stroke="#000" stroke-width="1.2"/>
<circle cx="187" cy="768.03" r="1.9" fill="#fff" stroke="#000" stroke-width="1.2"/>
<circle cx="197.43" cy="769.41" r="1.9" fill="#fff" stroke="#000" stroke-width="1.2"/>
<line x1="51.38" y1="764.3" x2="51.38" y2="771.76" stroke="#000" stroke-width="0.9" stroke-linecap="butt"/>
<line x1="49.38" y1="764.3" x2="53.38" y2="764.3" stroke="#000" stroke-width="0.9" stroke-linecap="butt"/>
<line x1="49.38" y1="771.76" x2="53.38" y2="771.76" stroke="#000" stroke-width="0.9" stroke-linecap="butt"/>
<line x1="61.81" y1="765.41" x2="61.81" y2="772.31" stroke="#000" stroke-width="0.9" stroke-linecap="butt"/>
<line x1="59.81" y1="765.41" x2="63.81" y2="765.41" stroke="#000" stroke-width="0.9" stroke-linecap="butt"/>
<line x1="59.81" y1="772.31" x2="63.81" y2="772.31" stroke="#000" stroke-width="0.9" stroke-linecap="butt"/>
<line x1="72.24" y1="765.54" x2="72.24" y2="772.45" stroke="#000" stroke-width="0.9" stroke-linecap="butt"/>
<line x1="70.24" y1="765.54" x2="74.24" y2="765.54" stroke="#000" stroke-width="0.9" stroke-linecap="butt"/>
<line x1="70.24" y1="772.45" x2="74.24" y2="772.45" stroke="#000" stroke-width="0.9" stroke-linecap="butt"/>
<line x1="82.68" y1="759.88" x2="82.68" y2="768.17" stroke="#000" stroke-width="0.9" stroke-linecap="butt"/>
<line x1="80.68" y1="759.88" x2="84.68" y2="759.88" stroke="#000" stroke-width="0.9" stroke-linecap="butt"/>
<line x1="80.68" y1="768.17" x2="84.68" y2="768.17" stroke="#000" stroke-width="0.9" stroke-linecap="butt"/>
<line x1="93.11" y1="760.71" x2="93.11" y2="768.72" stroke="#000" stroke-width="0.9" stroke-linecap="butt"/>
<line x1="91.11" y1="760.71" x2="95.11" y2="760.71" stroke="#000" stroke-width="0.9" stroke-linecap="butt"/>
<line x1="91.11" y1="768.72" x2="95.11" y2="768.72" stroke="#000" stroke-width="0.9" stroke-linecap="butt"/>
<line x1="103.54" y1="763.61" x2="103.54" y2="771.35" stroke="#000" stroke-width="0.9" stroke-linecap="butt"/>
<line x1="101.54" y1="763.61" x2="105.54" y2="763.61" stroke="#000" stroke-width="0.9" stroke-linecap="butt"/>
<line x1="101.54" y1="771.35" x2="105.54" y2="771.35" stroke="#000" stroke-width="0.9" stroke-linecap="butt"/>
<line x1="113.97" y1="759.19" x2="113.97" y2="767.2" stroke="#000" stroke-width="0.9" stroke-linecap="butt"/>
<line x1="111.97" y1="759.19" x2="115.97" y2="759.19" stroke="#000" stroke-width="0.9" stroke-linecap="butt"/>
<line x1="111.97" y1="767.2" x2="115.97" y2="767.2" stroke="#000" stroke-width="0.9" stroke-linecap="butt"/>
<line x1="124.4" y1="761.68" x2="124.4" y2="768.31" stroke="#000" stroke-width="0.9" stroke-linecap="butt"/>
<line x1="122.4" y1="761.68" x2="126.4" y2="761.68" stroke="#000" stroke-width="0.9" stroke-linecap="butt"/>
<line x1="122.4" y1="768.31" x2="126.4" y2="768.31" stroke="#000" stroke-width="0.9" stroke-linecap="butt"/>
<line x1="134.84" y1="766.92" x2="134.84" y2="771.07" stroke="#000" stroke-width="0.9" stroke-linecap="butt"/>
<line x1="132.84" y1="766.92" x2="136.84" y2="766.92" stroke="#000" stroke-width="0.9" stroke-linecap="butt"/>
<line x1="132.84" y1="771.07" x2="136.84" y2="771.07" stroke="#000" stroke-width="0.9" stroke-linecap="butt"/>
<line x1="145.27" y1="765.82" x2="145.27" y2="770.24" stroke="#000" stroke-width="0.9" stroke-linecap="butt"/>
<line x1="143.27" y1="765.82" x2="147.27" y2="765.82" stroke="#000" stroke-width="0.9" stroke-linecap="butt"/>
<line x1="143.27" y1="770.24" x2="147.27" y2="770.24" stroke="#000" stroke-width="0.9" stroke-linecap="butt"/>
<line x1="155.7" y1="766.23" x2="155.7" y2="770.38" stroke="#000" stroke-width="0.9" stroke-linecap="butt"/>
<line x1="153.7" y1="766.23" x2="157.7" y2="766.23" stroke="#000" stroke-width="0.9" stroke-linecap="butt"/>
<line x1="153.7" y1="770.38" x2="157.7" y2="770.38" stroke="#000" stroke-width="0.9" stroke-linecap="butt"/>
<line x1="166.13" y1="766.65" x2="166.13" y2="770.79" stroke="#000" stroke-width="0.9" stroke-linecap="butt"/>
<line x1="164.13" y1="766.65" x2="168.13" y2="766.65" stroke="#000" stroke-width="0.9" stroke-linecap="butt"/>
<line x1="164.13" y1="770.79" x2="168.13" y2="770.79" stroke="#000" stroke-width="0.9" stroke-linecap="butt"/>
<line x1="176.56" y1="766.51" x2="176.56" y2="770.65" stroke="#000" stroke-width="0.9" stroke-linecap="butt"/>
<line x1="174.56" y1="766.51" x2="178.56" y2="766.51" stroke="#000" stroke-width="0.9" stroke-linecap="butt"/>
<line x1="174.56" y1="770.65" x2="178.56" y2="770.65" stroke="#000" stroke-width="0.9" stroke-linecap="butt"/>
<line x1="187" y1="765.96" x2="187" y2="770.1" stroke="#000" stroke-width="0.9" stroke-linecap="butt"/>
<line x1="185" y1="765.96" x2="189" y2="765.96" stroke="#000" stroke-width="0.9" stroke-linecap="butt"/>
<line x1="185" y1="770.1" x2="189" y2="770.1" stroke="#000" stroke-width="0.9" stroke-linecap="butt"/>
<line x1="197.43" y1="767.34" x2="197.43" y2="771.48" stroke="#000" stroke-width="0.9" stroke-linecap="butt"/>
<line x1="195.43" y1="767.34" x2="199.43" y2="767.34" stroke="#000" stroke-width="0.9" stroke-linecap="butt"/>
<line x1="195.43" y1="771.48" x2="199.43" y2="771.48" stroke="#000" stroke-width="0.9" stroke-linecap="butt"/>
<polyline fill="none" stroke="#000" stroke-width="1.05" stroke-linejoin="round" points="51.38,743.44 61.81,742.2 72.24,740.12 82.68,705.03 93.11,708.9 103.54,714.15 113.97,710.01 124.4,722.58 134.84,726.86 145.27,726.03 155.7,728.38 166.13,729.49 176.56,723.41 187,724.37 197.43,726.17"/>
<line x1="51.38" y1="736.53" x2="51.38" y2="750.35" stroke="#000" stroke-width="1" stroke-linecap="butt"/>
<line x1="49.38" y1="736.53" x2="53.38" y2="736.53" stroke="#000" stroke-width="1" stroke-linecap="butt"/>
<line x1="49.38" y1="750.35" x2="53.38" y2="750.35" stroke="#000" stroke-width="1" stroke-linecap="butt"/>
<line x1="61.81" y1="735.7" x2="61.81" y2="748.69" stroke="#000" stroke-width="1" stroke-linecap="butt"/>
<line x1="59.81" y1="735.7" x2="63.81" y2="735.7" stroke="#000" stroke-width="1" stroke-linecap="butt"/>
<line x1="59.81" y1="748.69" x2="63.81" y2="748.69" stroke="#000" stroke-width="1" stroke-linecap="butt"/>
<line x1="72.24" y1="734.05" x2="72.24" y2="746.2" stroke="#000" stroke-width="1" stroke-linecap="butt"/>
<line x1="70.24" y1="734.05" x2="74.24" y2="734.05" stroke="#000" stroke-width="1" stroke-linecap="butt"/>
<line x1="70.24" y1="746.2" x2="74.24" y2="746.2" stroke="#000" stroke-width="1" stroke-linecap="butt"/>
<line x1="82.68" y1="695.36" x2="82.68" y2="714.7" stroke="#000" stroke-width="1" stroke-linecap="butt"/>
<line x1="80.68" y1="695.36" x2="84.68" y2="695.36" stroke="#000" stroke-width="1" stroke-linecap="butt"/>
<line x1="80.68" y1="714.7" x2="84.68" y2="714.7" stroke="#000" stroke-width="1" stroke-linecap="butt"/>
<line x1="93.11" y1="699.65" x2="93.11" y2="718.16" stroke="#000" stroke-width="1" stroke-linecap="butt"/>
<line x1="91.11" y1="699.65" x2="95.11" y2="699.65" stroke="#000" stroke-width="1" stroke-linecap="butt"/>
<line x1="91.11" y1="718.16" x2="95.11" y2="718.16" stroke="#000" stroke-width="1" stroke-linecap="butt"/>
<line x1="103.54" y1="705.72" x2="103.54" y2="722.58" stroke="#000" stroke-width="1" stroke-linecap="butt"/>
<line x1="101.54" y1="705.72" x2="105.54" y2="705.72" stroke="#000" stroke-width="1" stroke-linecap="butt"/>
<line x1="101.54" y1="722.58" x2="105.54" y2="722.58" stroke="#000" stroke-width="1" stroke-linecap="butt"/>
<line x1="113.97" y1="700.47" x2="113.97" y2="719.54" stroke="#000" stroke-width="1" stroke-linecap="butt"/>
<line x1="111.97" y1="700.47" x2="115.97" y2="700.47" stroke="#000" stroke-width="1" stroke-linecap="butt"/>
<line x1="111.97" y1="719.54" x2="115.97" y2="719.54" stroke="#000" stroke-width="1" stroke-linecap="butt"/>
<line x1="124.4" y1="714.57" x2="124.4" y2="730.59" stroke="#000" stroke-width="1" stroke-linecap="butt"/>
<line x1="122.4" y1="714.57" x2="126.4" y2="714.57" stroke="#000" stroke-width="1" stroke-linecap="butt"/>
<line x1="122.4" y1="730.59" x2="126.4" y2="730.59" stroke="#000" stroke-width="1" stroke-linecap="butt"/>
<line x1="134.84" y1="718.71" x2="134.84" y2="735.01" stroke="#000" stroke-width="1" stroke-linecap="butt"/>
<line x1="132.84" y1="718.71" x2="136.84" y2="718.71" stroke="#000" stroke-width="1" stroke-linecap="butt"/>
<line x1="132.84" y1="735.01" x2="136.84" y2="735.01" stroke="#000" stroke-width="1" stroke-linecap="butt"/>
<line x1="145.27" y1="719.68" x2="145.27" y2="732.39" stroke="#000" stroke-width="1" stroke-linecap="butt"/>
<line x1="143.27" y1="719.68" x2="147.27" y2="719.68" stroke="#000" stroke-width="1" stroke-linecap="butt"/>
<line x1="143.27" y1="732.39" x2="147.27" y2="732.39" stroke="#000" stroke-width="1" stroke-linecap="butt"/>
<line x1="155.7" y1="722.03" x2="155.7" y2="734.74" stroke="#000" stroke-width="1" stroke-linecap="butt"/>
<line x1="153.7" y1="722.03" x2="157.7" y2="722.03" stroke="#000" stroke-width="1" stroke-linecap="butt"/>
<line x1="153.7" y1="734.74" x2="157.7" y2="734.74" stroke="#000" stroke-width="1" stroke-linecap="butt"/>
<line x1="166.13" y1="723.41" x2="166.13" y2="735.56" stroke="#000" stroke-width="1" stroke-linecap="butt"/>
<line x1="164.13" y1="723.41" x2="168.13" y2="723.41" stroke="#000" stroke-width="1" stroke-linecap="butt"/>
<line x1="164.13" y1="735.56" x2="168.13" y2="735.56" stroke="#000" stroke-width="1" stroke-linecap="butt"/>
<line x1="176.56" y1="716.64" x2="176.56" y2="730.18" stroke="#000" stroke-width="1" stroke-linecap="butt"/>
<line x1="174.56" y1="716.64" x2="178.56" y2="716.64" stroke="#000" stroke-width="1" stroke-linecap="butt"/>
<line x1="174.56" y1="730.18" x2="178.56" y2="730.18" stroke="#000" stroke-width="1" stroke-linecap="butt"/>
<line x1="187" y1="717.88" x2="187" y2="730.87" stroke="#000" stroke-width="1" stroke-linecap="butt"/>
<line x1="185" y1="717.88" x2="189" y2="717.88" stroke="#000" stroke-width="1" stroke-linecap="butt"/>
<line x1="185" y1="730.87" x2="189" y2="730.87" stroke="#000" stroke-width="1" stroke-linecap="butt"/>
<line x1="197.43" y1="719.68" x2="197.43" y2="732.66" stroke="#000" stroke-width="1" stroke-linecap="butt"/>
<line x1="195.43" y1="719.68" x2="199.43" y2="719.68" stroke="#000" stroke-width="1" stroke-linecap="butt"/>
<line x1="195.43" y1="732.66" x2="199.43" y2="732.66" stroke="#000" stroke-width="1" stroke-linecap="butt"/>
<rect x="49.18" y="741.24" width="4.4" height="4.4" fill="#000"/>
<rect x="59.61" y="740" width="4.4" height="4.4" fill="#000"/>
<rect x="70.04" y="737.92" width="4.4" height="4.4" fill="#000"/>
<rect x="80.48" y="702.83" width="4.4" height="4.4" fill="#000"/>
<rect x="90.91" y="706.7" width="4.4" height="4.4" fill="#000"/>
<rect x="101.34" y="711.95" width="4.4" height="4.4" fill="#000"/>
<rect x="111.77" y="707.81" width="4.4" height="4.4" fill="#000"/>
<rect x="122.2" y="720.38" width="4.4" height="4.4" fill="#000"/>
<rect x="132.64" y="724.66" width="4.4" height="4.4" fill="#000"/>
<rect x="143.07" y="723.83" width="4.4" height="4.4" fill="#000"/>
<rect x="153.5" y="726.18" width="4.4" height="4.4" fill="#000"/>
<rect x="163.93" y="727.29" width="4.4" height="4.4" fill="#000"/>
<rect x="174.36" y="721.21" width="4.4" height="4.4" fill="#000"/>
<rect x="184.8" y="722.17" width="4.4" height="4.4" fill="#000"/>
<rect x="195.23" y="723.97" width="4.4" height="4.4" fill="#000"/>
<text x="130" y="821.8" font-size="7.9" text-anchor="middle" font-weight="bold" fill="#111" stroke="#111" stroke-width="0.15">Time (minutes)</text>
<text x="20.6" y="733.1" font-size="8.03" text-anchor="middle" font-weight="bold" transform="rotate(-90 20.6 733.1)" fill="#111" stroke="#111" stroke-width="0.15">ECAR (mpH/min/Norm. Unit)</text>
<text x="16" y="669.6" font-size="22.5" text-anchor="start" fill="#111">h</text>
<line x1="52.8" y1="723.2" x2="68.1" y2="723.2" stroke="#999" stroke-width="1.1" stroke-linecap="butt"/>
<text x="60.6" y="721.2" font-size="8.5" text-anchor="middle" font-weight="bold" fill="#111" stroke="#111" stroke-width="0.15">**</text>
<line x1="86.9" y1="689" x2="113" y2="689" stroke="#333" stroke-width="1.1" stroke-linecap="butt"/>
<text x="99.6" y="688" font-size="8.5" text-anchor="middle" font-weight="bold" fill="#111" stroke="#111" stroke-width="0.15">***</text>
<line x1="176.4" y1="675.4" x2="187.5" y2="675.4" stroke="#000" stroke-width="1.05" stroke-linecap="butt"/>
<circle cx="182" cy="675.4" r="1.9" fill="#fff" stroke="#000" stroke-width="1"/>
<line x1="180.5" y1="675.4" x2="183.5" y2="675.4" stroke="#333" stroke-width="0.9" stroke-linecap="butt"/>
<text x="193.4" y="678.3" font-size="7.8" text-anchor="start" fill="#111" stroke="#111" stroke-width="0.22">0 mM Caffeine</text>
<line x1="176.4" y1="689.6" x2="187.5" y2="689.6" stroke="#000" stroke-width="1.05" stroke-linecap="butt"/>
<rect x="179.8" y="687.4" width="4.4" height="4.4" fill="#000"/>
<text x="193.4" y="692.5" font-size="7.8" text-anchor="start" fill="#111" stroke="#111" stroke-width="0.22">1 mM Caffeine</text>
<line x1="294.3" y1="696.92" x2="294.3" y2="788.88" stroke="#000" stroke-width="0.95" stroke-linecap="butt"/>
<line x1="293.82" y1="788.4" x2="430.88" y2="788.4" stroke="#000" stroke-width="0.95" stroke-linecap="butt"/>
<line x1="291.9" y1="788.4" x2="294.3" y2="788.4" stroke="#000" stroke-width="0.95" stroke-linecap="butt"/>
<text x="291" y="791" font-size="7.2" text-anchor="end" font-weight="bold" fill="#111" stroke="#111" stroke-width="0.15">0</text>
<line x1="291.9" y1="765.65" x2="294.3" y2="765.65" stroke="#000" stroke-width="0.95" stroke-linecap="butt"/>
<text x="291" y="768.25" font-size="7.2" text-anchor="end" font-weight="bold" fill="#111" stroke="#111" stroke-width="0.15">10</text>
<line x1="291.9" y1="742.9" x2="294.3" y2="742.9" stroke="#000" stroke-width="0.95" stroke-linecap="butt"/>
<text x="291" y="745.5" font-size="7.2" text-anchor="end" font-weight="bold" fill="#111" stroke="#111" stroke-width="0.15">20</text>
<line x1="291.9" y1="720.15" x2="294.3" y2="720.15" stroke="#000" stroke-width="0.95" stroke-linecap="butt"/>
<text x="291" y="722.75" font-size="7.2" text-anchor="end" font-weight="bold" fill="#111" stroke="#111" stroke-width="0.15">30</text>
<line x1="291.9" y1="697.4" x2="294.3" y2="697.4" stroke="#000" stroke-width="0.95" stroke-linecap="butt"/>
<text x="291" y="700" font-size="7.2" text-anchor="end" font-weight="bold" fill="#111" stroke="#111" stroke-width="0.15">40</text>
<line x1="294.3" y1="788.4" x2="294.3" y2="791" stroke="#000" stroke-width="0.95" stroke-linecap="butt"/>
<text x="294.3" y="799" font-size="7.2" text-anchor="middle" font-weight="bold" fill="#111" stroke="#111" stroke-width="0.15">0</text>
<line x1="321.52" y1="788.4" x2="321.52" y2="791" stroke="#000" stroke-width="0.95" stroke-linecap="butt"/>
<text x="321.52" y="799" font-size="7.2" text-anchor="middle" font-weight="bold" fill="#111" stroke="#111" stroke-width="0.15">10</text>
<line x1="348.74" y1="788.4" x2="348.74" y2="791" stroke="#000" stroke-width="0.95" stroke-linecap="butt"/>
<text x="348.74" y="799" font-size="7.2" text-anchor="middle" font-weight="bold" fill="#111" stroke="#111" stroke-width="0.15">20</text>
<line x1="375.96" y1="788.4" x2="375.96" y2="791" stroke="#000" stroke-width="0.95" stroke-linecap="butt"/>
<text x="375.96" y="799" font-size="7.2" text-anchor="middle" font-weight="bold" fill="#111" stroke="#111" stroke-width="0.15">30</text>
<line x1="403.18" y1="788.4" x2="403.18" y2="791" stroke="#000" stroke-width="0.95" stroke-linecap="butt"/>
<text x="403.18" y="799" font-size="7.2" text-anchor="middle" font-weight="bold" fill="#111" stroke="#111" stroke-width="0.15">40</text>
<line x1="430.4" y1="788.4" x2="430.4" y2="791" stroke="#000" stroke-width="0.95" stroke-linecap="butt"/>
<text x="430.4" y="799" font-size="7.2" text-anchor="middle" font-weight="bold" fill="#111" stroke="#111" stroke-width="0.15">50</text>
<line x1="314.7" y1="744.3" x2="320.6" y2="744.3" stroke="#000" stroke-width="0.9" stroke-linecap="butt"/>
<line x1="317.5" y1="736.1" x2="317.5" y2="752.4" stroke="#000" stroke-width="0.9" stroke-linecap="butt"/>
<line x1="314.7" y1="742.2" x2="314.7" y2="746.4" stroke="#000" stroke-width="0.9" stroke-linecap="butt"/>
<line x1="320.6" y1="742.2" x2="320.6" y2="746.4" stroke="#000" stroke-width="0.9" stroke-linecap="butt"/>
<line x1="315.1" y1="736.1" x2="319.9" y2="736.1" stroke="#000" stroke-width="0.9" stroke-linecap="butt"/>
<line x1="315.1" y1="752.4" x2="319.9" y2="752.4" stroke="#000" stroke-width="0.9" stroke-linecap="butt"/>
<circle cx="317.5" cy="744.3" r="1.7" fill="#fff" stroke="#000" stroke-width="0.9"/>
<line x1="316.3" y1="744.3" x2="318.7" y2="744.3" stroke="#555" stroke-width="0.7" stroke-linecap="butt"/>
<line x1="375.8" y1="715.8" x2="403.5" y2="715.8" stroke="#000" stroke-width="0.9" stroke-linecap="butt"/>
<line x1="389.6" y1="705.2" x2="389.6" y2="726.1" stroke="#000" stroke-width="0.9" stroke-linecap="butt"/>
<line x1="375.8" y1="713.7" x2="375.8" y2="717.9" stroke="#000" stroke-width="0.9" stroke-linecap="butt"/>
<line x1="403.5" y1="713.7" x2="403.5" y2="717.9" stroke="#000" stroke-width="0.9" stroke-linecap="butt"/>
<line x1="387.2" y1="705.2" x2="392" y2="705.2" stroke="#000" stroke-width="0.9" stroke-linecap="butt"/>
<line x1="387.2" y1="726.1" x2="392" y2="726.1" stroke="#000" stroke-width="0.9" stroke-linecap="butt"/>
<rect x="387.4" y="713.6" width="4.4" height="4.4" fill="#000"/>
<text x="398.6" y="697.3" font-size="6.8" text-anchor="middle" font-weight="bold" fill="#111" stroke="#111" stroke-width="0.15">1 mM Caffeine</text>
<text x="331.3" y="764.4" font-size="6.8" text-anchor="middle" font-weight="bold" fill="#111" stroke="#111" stroke-width="0.15">0 mM Caffeine</text>
<text x="363.3" y="671.6" font-size="12" text-anchor="middle" fill="#111">Metabolic profile</text>
<text x="363.6" y="820.6" font-size="8.6" text-anchor="middle" font-weight="bold" fill="#111" stroke="#111" stroke-width="0.15">ECAR</text>
<text x="363.6" y="829.2" font-size="7.5" text-anchor="middle" font-weight="bold" fill="#111" stroke="#111" stroke-width="0.15">(mpH/min/10.000 cells)</text>
<text x="261.2" y="741.6" font-size="8.9" text-anchor="middle" font-weight="bold" transform="rotate(-90 261.2 741.6)" fill="#111" stroke="#111" stroke-width="0.15">OCR</text>
<text x="271.5" y="742.8" font-size="7.4" text-anchor="middle" font-weight="bold" transform="rotate(-90 271.5 742.8)" fill="#111" stroke="#111" stroke-width="0.15">(pmol/min/10.000 cells)</text>
<text x="255.3" y="669.9" font-size="22.5" text-anchor="start" fill="#111">i</text>
</svg>
</body></html>
